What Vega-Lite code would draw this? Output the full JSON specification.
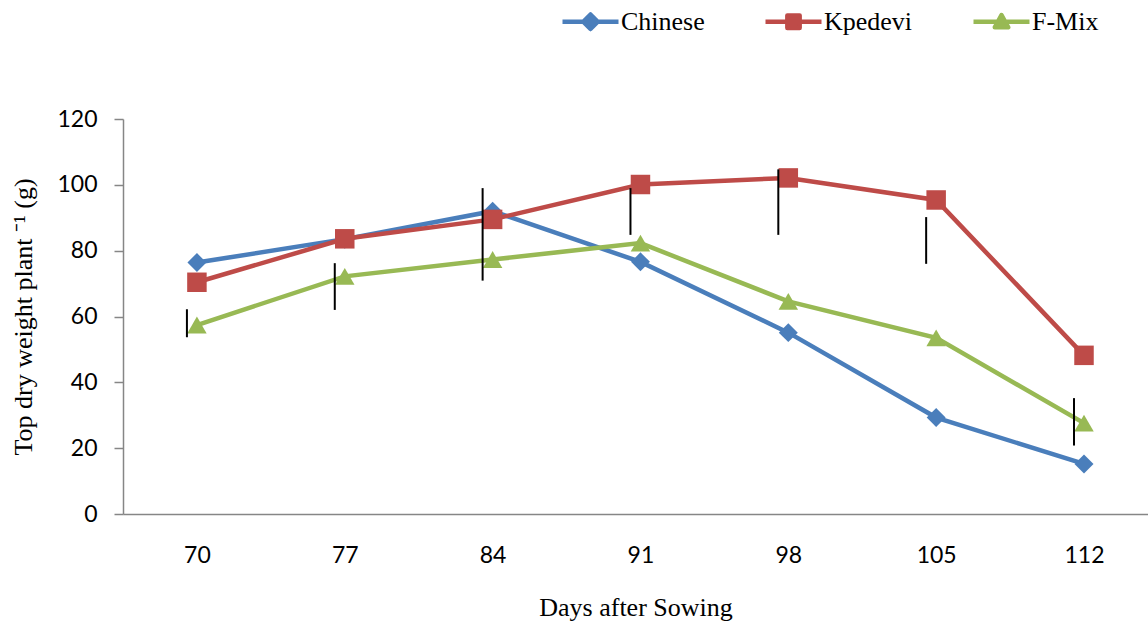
{
  "$schema": "https://vega.github.io/schema/vega-lite/v6.json",
  "width": 1025,
  "height": 395,
  "autosize": "none",
  "padding": {"left": 123, "top": 119, "right": 0, "bottom": 109},
  "background": "white",
  "config": {"view": {"stroke": null}},
  "datasets": {
    "growth": [
      {"day": 70, "series": "Chinese", "weight": 76.4},
      {"day": 77, "series": "Chinese", "weight": 83.5},
      {"day": 84, "series": "Chinese", "weight": 92.0},
      {"day": 91, "series": "Chinese", "weight": 76.6},
      {"day": 98, "series": "Chinese", "weight": 55.1},
      {"day": 105, "series": "Chinese", "weight": 29.3},
      {"day": 112, "series": "Chinese", "weight": 15.2},
      {"day": 70, "series": "Kpedevi", "weight": 70.4},
      {"day": 77, "series": "Kpedevi", "weight": 83.6},
      {"day": 84, "series": "Kpedevi", "weight": 89.5},
      {"day": 91, "series": "Kpedevi", "weight": 100.1},
      {"day": 98, "series": "Kpedevi", "weight": 102.1},
      {"day": 105, "series": "Kpedevi", "weight": 95.4},
      {"day": 112, "series": "Kpedevi", "weight": 48.2},
      {"day": 70, "series": "F-Mix", "weight": 57.4},
      {"day": 77, "series": "F-Mix", "weight": 72.2},
      {"day": 84, "series": "F-Mix", "weight": 77.3},
      {"day": 91, "series": "F-Mix", "weight": 82.3},
      {"day": 98, "series": "F-Mix", "weight": 64.6},
      {"day": 105, "series": "F-Mix", "weight": 53.5},
      {"day": 112, "series": "F-Mix", "weight": 27.6}
    ],
    "errors": [
      {"day": 70, "low": 53.7, "high": 62.2},
      {"day": 77, "low": 62.0, "high": 76.2},
      {"day": 84, "low": 70.9, "high": 99.0},
      {"day": 91, "low": 84.8, "high": 99.0},
      {"day": 98, "low": 84.8, "high": 104.7},
      {"day": 105, "low": 76.0, "high": 90.2},
      {"day": 112, "low": 20.8, "high": 35.2}
    ]
  },
  "layer": [
    {
      "data": {"name": "growth"},
      "mark": {"type": "line", "strokeWidth": 4.5},
      "encoding": {
        "x": {
          "field": "day", "type": "quantitative",
          "scale": {"domain": [66.5, 115.03], "nice": false, "zero": false},
          "axis": {
            "values": [70, 77, 84, 91, 98, 105, 112],
            "grid": false, "ticks": false,
            "domainColor": "#868686", "domainWidth": 1.5,
            "labelFont": "Lato", "labelFontSize": 23, "labelColor": "black",
            "labelPadding": 30,
            "title": "Days after Sowing",
            "titleFont": "Liberation Serif", "titleFontSize": 26, "titleFontWeight": "normal",
            "titleColor": "black", "titlePadding": 27
          }
        },
        "y": {
          "field": "weight", "type": "quantitative",
          "scale": {"domain": [0, 120], "nice": false},
          "axis": {
            "values": [0, 20, 40, 60, 80, 100, 120],
            "grid": false,
            "tickSize": 9, "tickColor": "#868686", "tickWidth": 1.5,
            "domainColor": "#868686", "domainWidth": 1.5,
            "labelFont": "Lato", "labelFontSize": 23, "labelColor": "black",
            "labelPadding": 17,
            "title": "Top dry weight plant ⁻¹ (g)",
            "titleFont": "Liberation Serif", "titleFontSize": 26, "titleFontWeight": "normal",
            "titleColor": "black", "titlePadding": 20
          }
        },
        "color": {
          "field": "series", "type": "nominal",
          "scale": {"domain": ["Chinese", "Kpedevi", "F-Mix"], "range": ["#4A7EBB", "#BE4B48", "#98B954"]},
          "legend": {
            "orient": "none", "legendX": 437, "legendY": -128,
            "direction": "horizontal", "title": null,
            "labelFont": "Liberation Serif", "labelFontSize": 26, "labelColor": "black",
            "symbolSize": 3136, "symbolStrokeWidth": 4.5, "symbolType": "M-1,0L1,0",
            "labelOffset": 0, "columnPadding": 58,
            "encode": {
              "symbols": {
                "update": {
                  "shape": {"signal": "datum.value === 'Chinese' ? 'M-1,0L1,0M0,-0.26L0.26,0L0,0.26L-0.26,0Z' : datum.value === 'Kpedevi' ? 'M-1,0L1,0M-0.22,-0.22L0.22,-0.22L0.22,0.22L-0.22,0.22Z' : 'M-1,0L1,0M0,-0.24L0.24,0.2L-0.24,0.2Z'"},
                  "fill": {"signal": "scale('color', datum.value)"},
                  "stroke": {"signal": "scale('color', datum.value)"},
                  "strokeJoin": {"value": "round"}
                }
              }
            }
          }
        }
      }
    },
    {
      "data": {"name": "growth"},
      "transform": [{"filter": "datum.series === 'Chinese'"}],
      "mark": {"type": "point", "filled": true, "opacity": 1, "shape": "diamond", "size": 360},
      "encoding": {
        "x": {"field": "day", "type": "quantitative"},
        "y": {"field": "weight", "type": "quantitative"},
        "color": {"field": "series", "type": "nominal", "legend": null}
      }
    },
    {
      "data": {"name": "growth"},
      "transform": [{"filter": "datum.series === 'Kpedevi'"}],
      "mark": {"type": "point", "filled": true, "opacity": 1, "shape": "square", "size": 380},
      "encoding": {
        "x": {"field": "day", "type": "quantitative"},
        "y": {"field": "weight", "type": "quantitative"},
        "color": {"field": "series", "type": "nominal", "legend": null}
      }
    },
    {
      "data": {"name": "growth"},
      "transform": [{"filter": "datum.series === 'F-Mix'"}],
      "mark": {"type": "point", "filled": true, "opacity": 1, "shape": "triangle-up", "size": 380},
      "encoding": {
        "x": {"field": "day", "type": "quantitative"},
        "y": {"field": "weight", "type": "quantitative"},
        "color": {"field": "series", "type": "nominal", "legend": null}
      }
    },
    {
      "data": {"name": "errors"},
      "mark": {"type": "rule", "color": "black", "strokeWidth": 2, "xOffset": -10, "x2Offset": -10},
      "encoding": {
        "x": {"field": "day", "type": "quantitative"},
        "y": {"field": "low", "type": "quantitative"},
        "y2": {"field": "high"}
      }
    }
  ]
}
